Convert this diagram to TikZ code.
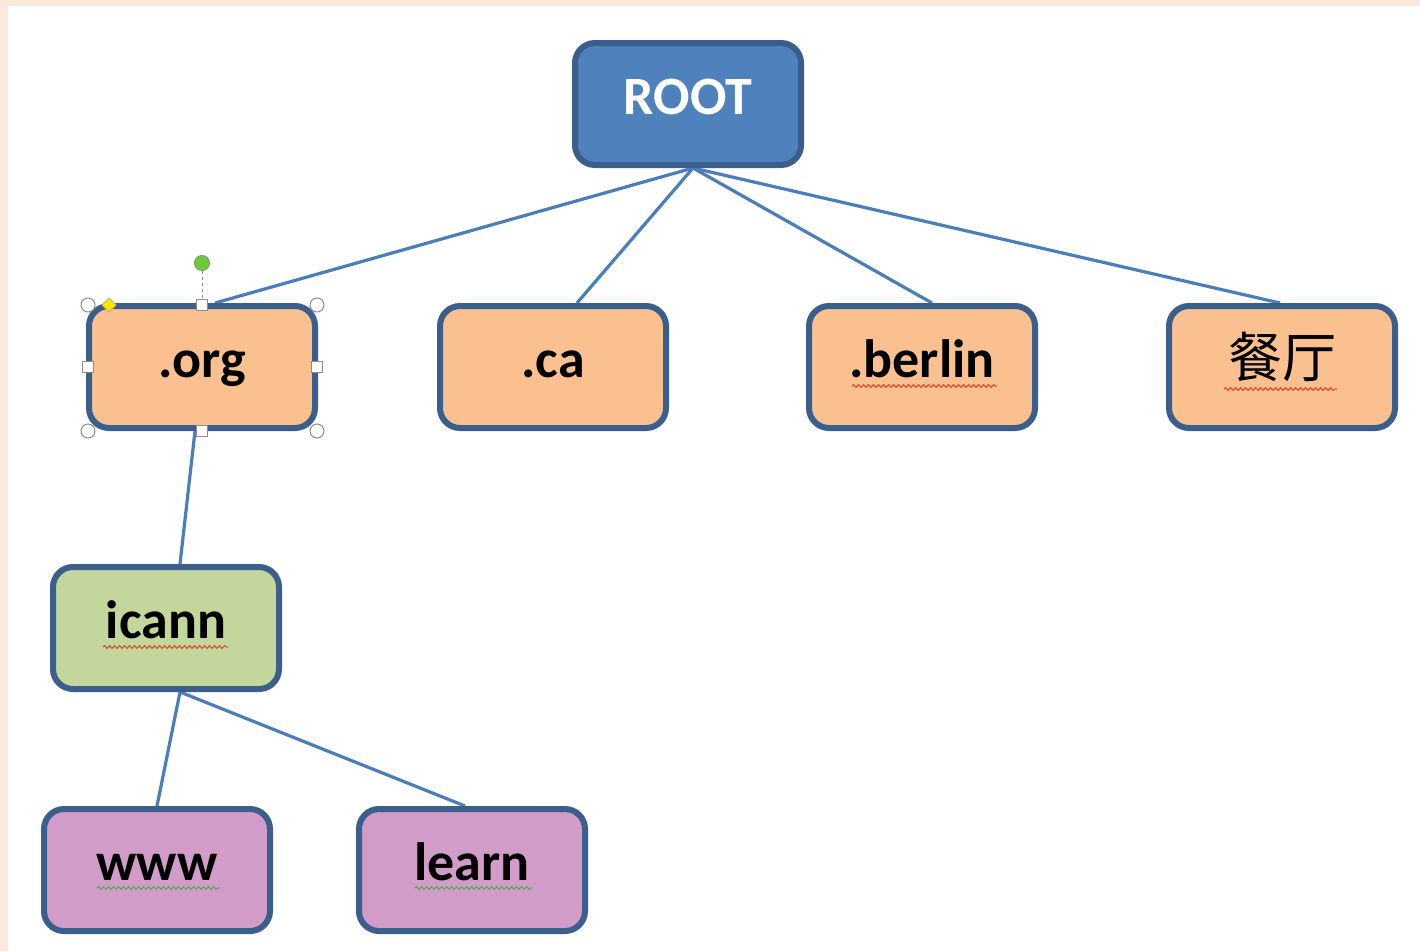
\documentclass[tikz,border=0pt]{standalone}
\usepackage{fontspec}
\setmainfont{Carlito}
\newfontfamily\cjk{Noto Sans CJK SC}
\usetikzlibrary{decorations.pathmorphing}

\definecolor{peach}{HTML}{FDE9DB}
\definecolor{boxedge}{HTML}{3A5F8C}
\definecolor{rootfill}{HTML}{4F81BD}
\definecolor{tldfill}{HTML}{FAC090}
\definecolor{orgfill}{HTML}{C3D69B}
\definecolor{hostfill}{HTML}{D19CC8}
\definecolor{linkblue}{HTML}{4A7EBB}
\definecolor{handlegray}{HTML}{8C8C8C}
\definecolor{rotgreen}{HTML}{6CCB3A}
\definecolor{spellred}{HTML}{E8402C}
\definecolor{spellgreen}{HTML}{4CAF50}

\pgfdeclarelayer{bg}
\pgfsetlayers{bg,main}

\begin{document}
\begin{tikzpicture}[x=1pt,y=-1pt,
  box/.style={draw=boxedge, line width=6pt, rounded corners=20pt,
    minimum width=226pt, minimum height=122pt, inner sep=0pt,
    font=\fontsize{54}{60}\selectfont\bfseries,
    text height=32pt, text depth=12pt},
  link/.style={draw=linkblue, line width=3.2pt},
  handle/.style={fill=white, draw=handlegray, line width=1pt},
  spell/.style={line width=1pt, decorate,
    decoration={snake, segment length=5pt, amplitude=1.4pt}}]

% page: peach frame along top and left, white sheet
\useasboundingbox (0,0) rectangle (1420,951);
\begin{pgfonlayer}{bg}
  \fill[peach] (0,0) rectangle (1420,951);
  \fill[white] (8,6) rectangle (1420,951);
\end{pgfonlayer}

% name tree
\node[box, fill=rootfill, text=white] (root) at (688,104) {ROOT};
\node[box, fill=tldfill] (org)    at (202,367)  {.org};
\node[box, fill=tldfill] (ca)     at (553,367)  {.ca};
\node[box, fill=tldfill] (berlin) at (922,367)  {.berlin};
\node[box, fill=tldfill, font=\fontsize{54}{60}\selectfont\cjk] (cant) at (1282,367) {餐厅};
\node[box, fill=orgfill] (icann)  at (166,628)  {icann};
\node[box, fill=hostfill] (www)   at (157,870)  {www};
\node[box, fill=hostfill] (learn) at (472,870)  {learn};

% branches
\begin{pgfonlayer}{bg}
  \draw[link] ([xshift=5pt]root.south) -- ([xshift=13pt]org.north);
  \draw[link] ([xshift=5pt]root.south) -- ([xshift=24pt]ca.north);
  \draw[link] ([xshift=5pt]root.south) -- ([xshift=10pt]berlin.north);
  \draw[link] ([xshift=5pt]root.south) -- ([xshift=-2pt]cant.north);
  \draw[link] ([xshift=-7pt]org.south) -- ([xshift=14pt]icann.north);
  \draw[link] ([xshift=14pt]icann.south) -- (www.north);
  \draw[link] ([xshift=14pt]icann.south) -- ([xshift=-7pt]learn.north);
\end{pgfonlayer}

% spell-check underlines
\draw[spell, spellred]   (852,386) -- (997,386);
\draw[spell, spellred]   (1224,389) -- (1337,389);
\draw[spell, spellred]   (103,647) -- (228,647);
\draw[spell, spellgreen] (97,888) -- (220,888);
\draw[spell, spellgreen] (415,888) -- (532,888);

% selection handles on .org
\draw[handlegray, line width=1pt, dash pattern=on 3pt off 3pt] (202,271) -- (202,299);
\draw[fill=rotgreen, draw=handlegray!80!rotgreen, line width=1pt] (202,263) circle[radius=7.5pt];
\foreach \p in {(88,305),(317,305),(88,431),(317,431)}
  \draw[handle] \p circle[radius=7pt];
\foreach \p in {(202,305),(202,431),(88,367),(317,367)}
  \draw[handle] \p ++(-5.5,-5.5) rectangle ++(11,11);
\draw[fill=yellow!90!orange, draw=handlegray!60!yellow, line width=0.8pt]
  (109,298) -- (116,305) -- (109,312) -- (102,305) -- cycle;
\end{tikzpicture}
\end{document}
